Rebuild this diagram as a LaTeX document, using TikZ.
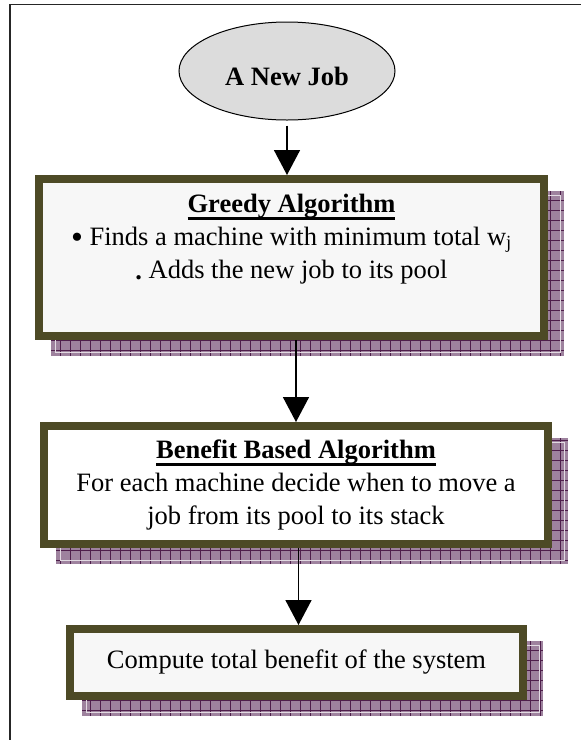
\documentclass[tikz,border=0pt]{standalone}
\usepackage{fontspec}
\setmainfont{Liberation Serif}
\usepackage{tikz}
\usetikzlibrary{shapes,arrows.meta,positioning,backgrounds}

\definecolor{framecol}{HTML}{4D4A26}
\definecolor{jobgray}{HTML}{DCDCDC}
\definecolor{boxfill}{HTML}{F7F7F7}
\definecolor{shademauve}{HTML}{9E829E}
\definecolor{shadegrid}{HTML}{4E1E4B}

\newsavebox\headbox
\newcommand{\headline}[1]{\sbox\headbox{\bfseries #1}\rlap{\rule[-7.5pt]{\wd\headbox}{3pt}}\usebox\headbox}

\tikzset{
  algbox/.style={draw=framecol, line width=8pt, outer sep=4pt, inner sep=0pt,
                 align=center, font=\fontsize{26.5}{33}\selectfont},
  jobnode/.style={ellipse, draw, line width=1pt, fill=jobgray, inner sep=0pt,
                  minimum width=216pt, minimum height=98pt,
                  font=\fontsize{26.5}{33}\selectfont\bfseries,
                  text height=28pt, text depth=0pt},
  flow/.style={line width=1.6pt, -{Triangle[width=26pt,length=25pt]}}
}

\begin{document}
\begin{tikzpicture}[x=1pt, y=-1pt]
\useasboundingbox (0,0) rectangle (581,740);
\draw[line width=1.5pt, black!85] (10,745) -- (10,4.5) -- (590,4.5);

\node[jobnode] (job) at (287,71) {A New Job};
\node[algbox, fill=boxfill, minimum width=505pt, minimum height=157pt] (greedy) at (291.5,257.5)
  {\headline{Greedy Algorithm}\\
   \raisebox{-3pt}{\fontsize{34}{33}\selectfont\textbullet} Finds a machine with minimum total w\textsubscript{j}\\
   \raisebox{-1pt}{\textbf{.}} Adds the new job to its pool\\
   \strut};
\node[algbox, fill=white, minimum width=504pt, minimum height=118pt] (benefit) at (296,485)
  {\headline{Benefit Based Algorithm}\\
   For each machine decide when to move a\\
   job from its pool to its stack};
\node[algbox, fill=boxfill, minimum width=453pt, minimum height=67pt] (total) at (296.5,662.5)
  {Compute total benefit of the system};

\begin{scope}[on background layer]
  \foreach \n in {greedy,benefit,total}{
    \fill[shademauve] ([shift={(16,16)}]\n.south west) rectangle ([shift={(16,16)}]\n.north east);
    \begin{scope}
      \clip ([shift={(16,16)}]\n.south west) rectangle ([shift={(16,16)}]\n.north east);
      \draw[shadegrid, line width=0.7pt, step=10pt] ([shift={(16,16)}]\n.south west) grid ([shift={(16,16)}]\n.north east);
    \end{scope}
    \draw[white!70!shademauve, line width=0.5pt] ([shift={(20,12)}]\n.south west) rectangle ([shift={(12,20)}]\n.north east);
  }
\end{scope}

\draw[flow, shorten <=5pt] (job) -- (job |- greedy.north);
\draw[flow] (benefit.north |- greedy.south) -- (benefit.north);
\draw[flow] ([xshift=2pt]total.north |- benefit.south) -- ([xshift=2pt]total.north);
\end{tikzpicture}
\end{document}
